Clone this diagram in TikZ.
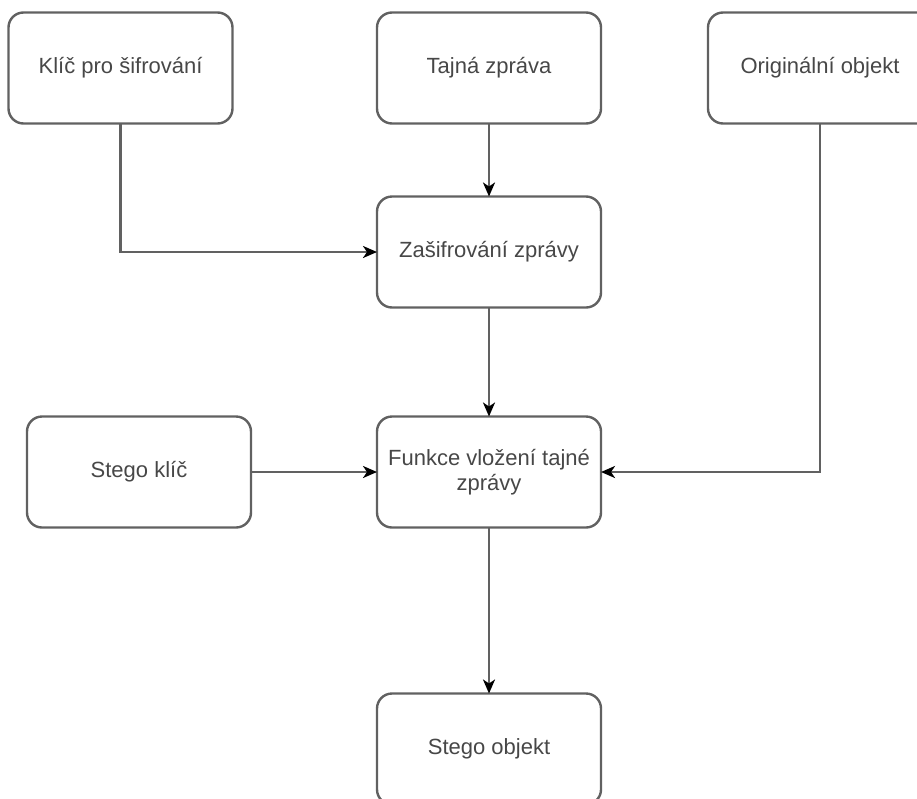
\documentclass[tikz,border=0pt]{standalone}
\usepackage{fontspec}
\setmainfont{Liberation Sans}
\usetikzlibrary{arrows.meta}
\usetikzlibrary{positioning}
\tikzset {
  flow path/.style = {
    draw = black!62,
    line width = 2.4pt
  },
  % path style with an arrow at the end
  arr/.style = {
    flow path,
    -{Stealth[length=14pt,width=12pt,inset=4pt,color=black]}
  },
  % path style with no arrows
  narr/.style = {
    flow path
  }
}
\tikzset {
  flow node/.style = {
    draw = black!62,
    line width = 2.4pt,
    rounded corners = 15pt,
    minimum width = 224pt,
    minimum height = 111pt,
    outer sep = 0pt,
    text = black!72,
    font = \fontsize{22}{25}\selectfont
  },
  % input of the process
  input/.style = {
    flow node
  },
  % processing step
  stepbox/.style = {
    flow node,
    align = center
  },
  node distance = 0.5cm
}
\begin{document}
\begin{tikzpicture}[x=1pt,y=-1pt]
    \useasboundingbox (0,0) rectangle (917,798);

    \node[input] (klic) at (120.5,68) {Klíč pro šifrování};
    \node[input] (tajna) at (489,68) {Tajná zpráva};
    \node[input] (original) at (820,68) {Originální objekt};
    \node[stepbox] (zasifrovani) [below=73pt of tajna] {Zašifrování zprávy};
    \node[stepbox] (funkce) [below=109pt of zasifrovani] {Funkce vložení tajné\\zprávy};
    \node[input] (stegoklic) [left=126pt of funkce] {Stego klíč};
    \node[input] (stegoobjekt) [below=166pt of funkce] {Stego objekt};

    \draw[arr] (klic) |- (zasifrovani);
    \draw[arr] (tajna) -- (zasifrovani);
    \draw[arr] (zasifrovani) -- (funkce);
    \draw[arr] (stegoklic) -- (funkce);
    \draw[arr] (original) |- (funkce);
    \draw[arr] (funkce) -- (stegoobjekt);
  \end{tikzpicture}
\end{document}
